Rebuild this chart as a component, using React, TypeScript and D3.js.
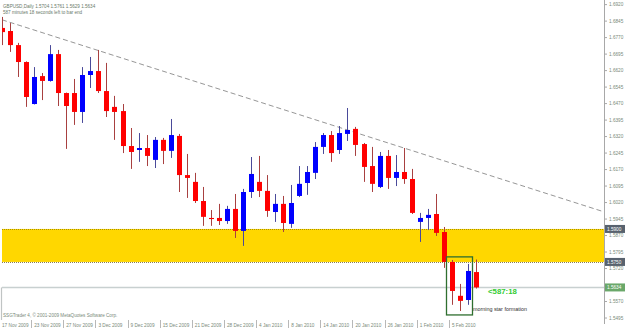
import React from 'react';
import * as d3 from 'd3';

const opens = [1.6814,1.6800,1.6736,1.6659,1.6468,1.6595,1.6573,1.6695,1.6518,1.6518,
  1.6432,1.6600,1.6618,1.6527,1.6455,1.6436,1.6277,1.6259,1.6268,1.6214,
  1.6305,1.6255,1.6323,1.6145,1.6114,1.6027,1.5950,1.5950,1.5936,1.5991,
  1.5891,1.6068,1.6114,1.6073,1.5977,1.6014,1.5923,1.6050,1.6109,1.6155,
  1.6273,1.6327,1.6259,1.6332,1.6355,1.6286,1.6186,1.6091,1.6232,1.6132,
  1.6159,1.6127,1.5932,1.5950,1.5968,1.5886,1.5750,1.5596,1.5577,1.5704];
const highs = [1.6864,1.6836,1.6746,1.6662,1.6636,1.6609,1.6736,1.6714,1.6520,1.6582,
  1.6636,1.6682,1.6714,1.6655,1.6505,1.6468,1.6359,1.6336,1.6327,1.6318,
  1.6314,1.6400,1.6332,1.6241,1.6155,1.6091,1.5986,1.6014,1.6005,1.6059,
  1.6082,1.6227,1.6232,1.6145,1.6059,1.6050,1.6100,1.6186,1.6186,1.6295,
  1.6336,1.6345,1.6368,1.6450,1.6364,1.6291,1.6273,1.6250,1.6259,1.6236,
  1.6268,1.6173,1.5973,1.5991,1.6059,1.5909,1.5759,1.5650,1.5741,1.5761];
const lows = [1.6736,1.6705,1.6591,1.6455,1.6466,1.6486,1.6570,1.6459,1.6264,1.6373,
  1.6382,1.6541,1.6518,1.6409,1.6305,1.6245,1.6173,1.6205,1.6186,1.6177,
  1.6195,1.6223,1.6068,1.6041,1.6018,1.5914,1.5914,1.5918,1.5923,1.5859,
  1.5823,1.6041,1.6045,1.5955,1.5932,1.5886,1.5905,1.6045,1.6055,1.6127,
  1.6241,1.6205,1.6241,1.6300,1.6232,1.6114,1.6068,1.6086,1.6082,1.6095,
  1.6105,1.5968,1.5841,1.5895,1.5868,1.5723,1.5555,1.5527,1.5555,1.5629];
const closes = [1.6795,1.6736,1.6659,1.6500,1.6591,1.6573,1.6695,1.6518,1.6459,1.6432,
  1.6600,1.6618,1.6527,1.6436,1.6432,1.6277,1.6250,1.6268,1.6232,1.6305,
  1.6255,1.6327,1.6145,1.6132,1.6027,1.5955,1.5945,1.5936,1.5991,1.5891,
  1.6068,1.6150,1.6073,1.5982,1.6014,1.5927,1.6018,1.6105,1.6159,1.6273,
  1.6327,1.6245,1.6336,1.6350,1.6282,1.6182,1.6105,1.6232,1.6132,1.6159,
  1.6127,1.5973,1.5950,1.5964,1.5882,1.5750,1.5618,1.5573,1.5709,1.5634];

const dateLabels = ['17 Nov 2009','23 Nov 2009','27 Nov 2009','3 Dec 2009','9 Dec 2009',
  '15 Dec 2009','21 Dec 2009','28 Dec 2009','4 Jan 2010','8 Jan 2010','14 Jan 2010',
  '20 Jan 2010','26 Jan 2010','1 Feb 2010','5 Feb 2010'];
const dateBars = [0,4,8,12,16,20,24,28,32,36,40,44,48,52,56];

const priceTicks = ['1.6920','1.6845','1.6770','1.6695','1.6620','1.6545','1.6470','1.6395',
  '1.6320','1.6245','1.6170','1.6095','1.6020','1.5945','1.5870','1.5795','1.5720',
  '1.5645','1.5570','1.5495'];

const zoneTop = 1.5900;
const zoneBottom = 1.5750;
const trendBars = [0, 75];
const trendPrices = [1.6851, 1.5977];
const patternBars = [56, 58];
const patternPrices = [1.5773, 1.5509];
const titleText = 'GBPUSD,Daily  1.5704 1.5761 1.5629 1.5634';
const timerText = '587 minutes 18 seconds left to bar end';
const countdown = '<587:18';
const note = 'morning star formation';
const copyright = 'SSGTrader 4, \u00a9 2001-2009 MetaQuotes Software Corp.';

const W = 625, H = 329;
const plotL = 2, plotR = 604, plotT = 0, plotB = 320;
const FONT = '"Liberation Sans", Arial, sans-serif';

export default function App() {
  const x = d3.scaleLinear().domain([0, 59]).range([2, 476]);
  const y = d3.scaleLinear().domain([1.5486, 1.6941]).range([plotB, plotT]);
  const bid = closes[closes.length - 1];
  const hiddenTicks = new Set(['1.5645']);
  const line = d3.line<number>().x((_, i) => x(trendBars[i])).y((d) => y(d));

  return (
    <svg width={W} height={H} style={{ position: 'absolute', left: 0, top: 0, background: '#fff' }}
      fontFamily={FONT}>
      <defs>
        <clipPath id="plot"><rect x={plotL} y={plotT} width={plotR - plotL} height={plotB - plotT} /></clipPath>
      </defs>
      <rect x={0} y={0} width={W} height={H} fill="#fff" />
      <g clipPath="url(#plot)">
        {/* zone */}
        <rect x={plotL} y={y(zoneTop)} width={plotR - plotL} height={y(zoneBottom) - y(zoneTop)} fill="#FFD700" />
        <line x1={plotL} x2={plotR} y1={Math.round(y(zoneTop)) + 0.5} y2={Math.round(y(zoneTop)) + 0.5}
          stroke="#a89000" strokeDasharray="1,1" />
        <line x1={plotL} x2={plotR} y1={Math.round(y(zoneBottom)) + 0.5} y2={Math.round(y(zoneBottom)) + 0.5}
          stroke="#8a8050" strokeDasharray="1,1" />
        {/* bid line */}
        <line x1={plotL} x2={plotR} y1={y(bid)} y2={y(bid)} stroke="#c8d0d0" strokeWidth={1.6} />
        {/* trendline */}
        <path d={line(trendPrices) || ''} fill="none" stroke="#8a8a8a" strokeWidth={0.9} strokeDasharray="5,3" />
        {/* candles */}
        {opens.map((o, i) => {
          const c = closes[i];
          const up = c >= o;
          const xc = Math.round(x(i));
          const top = y(Math.max(o, c));
          const bot = y(Math.min(o, c));
          const wick = up ? '#4a4a9a' : '#a84040';
          const body = up ? '#0000ff' : '#ff0000';
          return (
            <g key={i}>
              <line x1={xc + 0.5} x2={xc + 0.5} y1={y(highs[i])} y2={y(lows[i])} stroke={wick} strokeWidth={1} />
              <rect x={xc - 2} y={top} width={5} height={Math.max(1, bot - top)} fill={body} />
            </g>
          );
        })}
        {/* pattern box */}
        <rect x={Math.round(x(patternBars[0])) - 5.5} y={y(patternPrices[0])}
          width={Math.round(x(patternBars[1])) - Math.round(x(patternBars[0])) + 10}
          height={y(patternPrices[1]) - y(patternPrices[0])}
          fill="none" stroke="#2f6f2f" strokeWidth={1.3} />
      </g>
      {/* left border fragment */}
      <line x1={1.5} x2={1.5} y1={y(bid)} y2={plotB} stroke="#c0c4c4" strokeWidth={1.2} />
      {/* right axis */}
      <line x1={plotR + 0.5} x2={plotR + 0.5} y1={0} y2={324} stroke="#a8a8a8" />
      {priceTicks.filter((t) => !hiddenTicks.has(t)).map((t) => (
        <g key={t}>
          <line x1={plotR} x2={plotR + 3} y1={y(+t)} y2={y(+t)} stroke="#a8a8a8" />
          <text x={609} y={y(+t)} dy="0.35em" fontSize={4.7} fill="#7a8a7a">{t}</text>
        </g>
      ))}
      {[zoneTop, zoneBottom].map((p) => (
        <g key={p}>
          <rect x={plotR + 1} y={y(p) - 4} width={W - plotR - 1} height={8} fill="#58626e" />
          <text x={607} y={y(p)} dy="0.35em" fontSize={4.7} fill="#fff">{p.toFixed(4)}</text>
        </g>
      ))}
      <rect x={plotR + 1} y={y(bid) - 4} width={W - plotR - 1} height={8} fill="#6aa86a" />
      <text x={607} y={y(bid)} dy="0.35em" fontSize={4.7} fill="#fff">{bid.toFixed(4)}</text>
      {/* date axis */}
      {dateBars.map((b, i) => (
        <g key={b}>
          <line x1={Math.round(x(b)) - 2.5} x2={Math.round(x(b)) - 2.5} y1={320} y2={328} stroke="#b8b8b8" />
          <text x={x(b)} y={325} dy="0.35em" fontSize={4.7} fill="#7a8a7a">{dateLabels[i]}</text>
        </g>
      ))}
      {/* texts */}
      <text x={3} y={6} dy="0.35em" fontSize={4.6} fill="#6a7a6a">{titleText}</text>
      <text x={3} y={12.5} dy="0.35em" fontSize={4.6} fill="#6a7a6a">{timerText}</text>
      <text x={3} y={315.5} dy="0.35em" fontSize={4.6} fill="#7a8a7a">{copyright}</text>
      <text x={x(59) + 12} y={y(bid) + 7} fontSize={7.8} fontWeight="bold" fill="#33cc33">{countdown}</text>
      <text x={x(58) + 5} y={310.5} fontSize={5.4} fill="#303030">{note}</text>
    </svg>
  );
}
